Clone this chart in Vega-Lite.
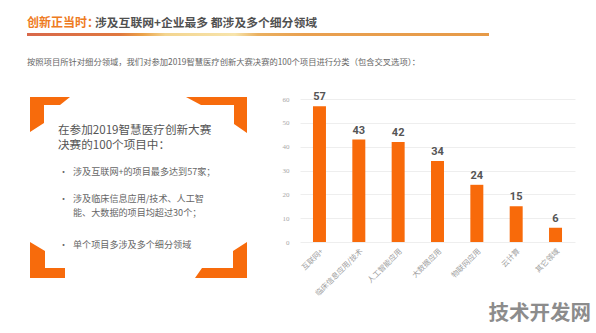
{
  "$schema": "https://vega.github.io/schema/vega-lite/v6.json",
  "padding": 0,
  "background": "white",
  "bounds": "flush",
  "spacing": 0,
  "config": {"view": {"stroke": null}},
  "hconcat": [
    {
      "width": 300,
      "height": 333,
      "layer": [
        {
          "data": {"values": [
            {"b": "tl", "i": 0, "px": 30, "py": 97}, {"b": "tl", "i": 1, "px": 70, "py": 97}, {"b": "tl", "i": 2, "px": 60, "py": 105}, {"b": "tl", "i": 3, "px": 44, "py": 105}, {"b": "tl", "i": 4, "px": 44, "py": 123}, {"b": "tl", "i": 5, "px": 30, "py": 132},
            {"b": "tr", "i": 0, "px": 186, "py": 97}, {"b": "tr", "i": 1, "px": 247, "py": 97}, {"b": "tr", "i": 2, "px": 247, "py": 133}, {"b": "tr", "i": 3, "px": 234, "py": 124}, {"b": "tr", "i": 4, "px": 234, "py": 105}, {"b": "tr", "i": 5, "px": 201, "py": 105},
            {"b": "bl", "i": 0, "px": 30, "py": 242}, {"b": "bl", "i": 1, "px": 45, "py": 251}, {"b": "bl", "i": 2, "px": 45, "py": 268}, {"b": "bl", "i": 3, "px": 65, "py": 268}, {"b": "bl", "i": 4, "px": 65, "py": 278}, {"b": "bl", "i": 5, "px": 30, "py": 278},
            {"b": "br", "i": 0, "px": 195, "py": 278}, {"b": "br", "i": 1, "px": 202, "py": 268}, {"b": "br", "i": 2, "px": 233, "py": 268}, {"b": "br", "i": 3, "px": 233, "py": 251}, {"b": "br", "i": 4, "px": 247, "py": 242}, {"b": "br", "i": 5, "px": 247, "py": 278}
          ]},
          "mark": {"type": "line", "filled": true, "interpolate": "linear-closed", "color": "#f76b0c", "strokeWidth": 0},
          "encoding": {
            "x": {"field": "px", "type": "quantitative", "scale": {"domain": [0, 300], "nice": false, "zero": false}, "axis": null},
            "y": {"field": "py", "type": "quantitative", "scale": {"domain": [0, 333], "nice": false, "zero": false, "reverse": true}, "axis": null},
            "detail": {"field": "b"},
            "order": {"field": "i"}
          }
        },
        {
          "data": {"values": [{}]},
          "mark": {"type": "rect", "color": {"gradient": "linear", "stops": [
            {"offset": 0, "color": "#d8684a"}, {"offset": 0.2, "color": "#e0783f"}, {"offset": 0.25, "color": "#eba24a"},
            {"offset": 0.3, "color": "#f3d590"}, {"offset": 0.45, "color": "#f7e4ac"}, {"offset": 0.5, "color": "#eab060"},
            {"offset": 0.6, "color": "#e9a050"}, {"offset": 1, "color": "#e69a48"}]}},
          "encoding": {
            "x": {"datum": 27, "type": "quantitative"}, "x2": {"datum": 489},
            "y": {"datum": 33, "type": "quantitative"}, "y2": {"datum": 36}
          }
        },
        {
          "data": {"values": [{}]},
          "mark": {"type": "text", "text": "创新正当时：", "align": "left", "baseline": "middle", "font": "Noto Sans CJK SC", "fontSize": 12, "fontWeight": "bold", "color": "#ee7b22"},
          "encoding": {"x": {"datum": 27, "type": "quantitative"}, "y": {"datum": 23, "type": "quantitative"}}
        },
        {
          "data": {"values": [{}]},
          "mark": {"type": "text", "text": "涉及互联网+企业最多 都涉及多个细分领域", "align": "left", "baseline": "middle", "font": "Noto Sans CJK SC", "fontSize": 11.8, "fontWeight": "bold", "color": "#505050"},
          "encoding": {"x": {"datum": 95, "type": "quantitative"}, "y": {"datum": 23, "type": "quantitative"}}
        },
        {
          "data": {"values": [{}]},
          "mark": {"type": "text", "text": "按照项目所针对细分领域，我们对参加2019智慧医疗创新大赛决赛的100个项目进行分类（包含交叉选项）：", "align": "left", "baseline": "middle", "font": "Noto Sans CJK SC", "fontSize": 8.3, "color": "#666666"},
          "encoding": {"x": {"datum": 27, "type": "quantitative"}, "y": {"datum": 63, "type": "quantitative"}}
        },
        {
          "data": {"values": [{}]},
          "mark": {"type": "text", "text": "在参加2019智慧医疗创新大赛", "align": "left", "baseline": "middle", "font": "Noto Sans CJK SC", "fontSize": 11.6, "color": "#555555"},
          "encoding": {"x": {"datum": 58, "type": "quantitative"}, "y": {"datum": 131, "type": "quantitative"}}
        },
        {
          "data": {"values": [{}]},
          "mark": {"type": "text", "text": "决赛的100个项目中：", "align": "left", "baseline": "middle", "font": "Noto Sans CJK SC", "fontSize": 11.6, "color": "#555555"},
          "encoding": {"x": {"datum": 58, "type": "quantitative"}, "y": {"datum": 146, "type": "quantitative"}}
        },
        {
          "data": {"values": [{}]},
          "mark": {"type": "text", "text": "•", "align": "left", "baseline": "middle", "font": "Noto Sans CJK SC", "fontSize": 9, "color": "#666666"},
          "encoding": {"x": {"datum": 59, "type": "quantitative"}, "y": {"datum": 172, "type": "quantitative"}}
        },
        {
          "data": {"values": [{}]},
          "mark": {"type": "text", "text": "•", "align": "left", "baseline": "middle", "font": "Noto Sans CJK SC", "fontSize": 9, "color": "#666666"},
          "encoding": {"x": {"datum": 59, "type": "quantitative"}, "y": {"datum": 199, "type": "quantitative"}}
        },
        {
          "data": {"values": [{}]},
          "mark": {"type": "text", "text": "•", "align": "left", "baseline": "middle", "font": "Noto Sans CJK SC", "fontSize": 9, "color": "#666666"},
          "encoding": {"x": {"datum": 59, "type": "quantitative"}, "y": {"datum": 245, "type": "quantitative"}}
        },
        {
          "data": {"values": [{}]},
          "mark": {"type": "text", "text": "涉及互联网+的项目最多达到57家；", "align": "left", "baseline": "middle", "font": "Noto Sans CJK SC", "fontSize": 9.1, "color": "#666666"},
          "encoding": {"x": {"datum": 73, "type": "quantitative"}, "y": {"datum": 172, "type": "quantitative"}}
        },
        {
          "data": {"values": [{}]},
          "mark": {"type": "text", "text": "涉及临床信息应用/技术、人工智", "align": "left", "baseline": "middle", "font": "Noto Sans CJK SC", "fontSize": 9.1, "color": "#666666"},
          "encoding": {"x": {"datum": 73, "type": "quantitative"}, "y": {"datum": 199, "type": "quantitative"}}
        },
        {
          "data": {"values": [{}]},
          "mark": {"type": "text", "text": "能、大数据的项目均超过30个；", "align": "left", "baseline": "middle", "font": "Noto Sans CJK SC", "fontSize": 9.1, "color": "#666666"},
          "encoding": {"x": {"datum": 73, "type": "quantitative"}, "y": {"datum": 212.5, "type": "quantitative"}}
        },
        {
          "data": {"values": [{}]},
          "mark": {"type": "text", "text": "单个项目多涉及多个细分领域", "align": "left", "baseline": "middle", "font": "Noto Sans CJK SC", "fontSize": 9.1, "color": "#666666"},
          "encoding": {"x": {"datum": 73, "type": "quantitative"}, "y": {"datum": 245, "type": "quantitative"}}
        },
        {
          "data": {"values": [{}]},
          "mark": {"type": "text", "text": "技术开发网", "align": "right", "baseline": "middle", "font": "Noto Sans CJK SC", "fontSize": 20.5, "fontWeight": "bold", "color": "#8c8c8c"},
          "encoding": {"x": {"datum": 591, "type": "quantitative"}, "y": {"datum": 314, "type": "quantitative"}}
        }
      ]
    },
    {
      "width": 275,
      "height": 242,
      "data": {"values": [
        {"cat": "互联网+", "value": 57},
        {"cat": "临床信息应用/技术", "value": 43},
        {"cat": "人工智能应用", "value": 42},
        {"cat": "大数据应用", "value": 34},
        {"cat": "物联网应用", "value": 24},
        {"cat": "云计算", "value": 15},
        {"cat": "其它领域", "value": 6}
      ]},
      "encoding": {
        "x": {"field": "cat", "type": "nominal", "sort": null, "scale": {"paddingInner": 0.67, "paddingOuter": 0.33},
          "axis": {"title": null, "labelAngle": -45, "labelColor": "#a0a0a0", "labelFontSize": 7.5, "labelFont": "Noto Sans CJK SC", "ticks": false, "domain": false, "labelPadding": 5}},
        "y": {"field": "value", "type": "quantitative", "scale": {"domain": [0, 101.54], "nice": false},
          "axis": {"title": null, "values": [0, 10, 20, 30, 40, 50, 60], "domain": false, "ticks": false, "labelColor": "#a8a8a8", "labelFontSize": 7, "labelFont": "Liberation Serif", "labelPadding": 11, "gridColor": "#eeeeee"}}
      },
      "layer": [
        {"mark": {"type": "bar", "color": "#f86a0a"}},
        {"mark": {"type": "text", "baseline": "bottom", "dy": -4, "font": "Liberation Sans Narrow, Roboto", "fontWeight": "bold", "fontSize": 11, "color": "#555555"},
         "encoding": {"text": {"field": "value"}}}
      ]
    }
  ]
}
